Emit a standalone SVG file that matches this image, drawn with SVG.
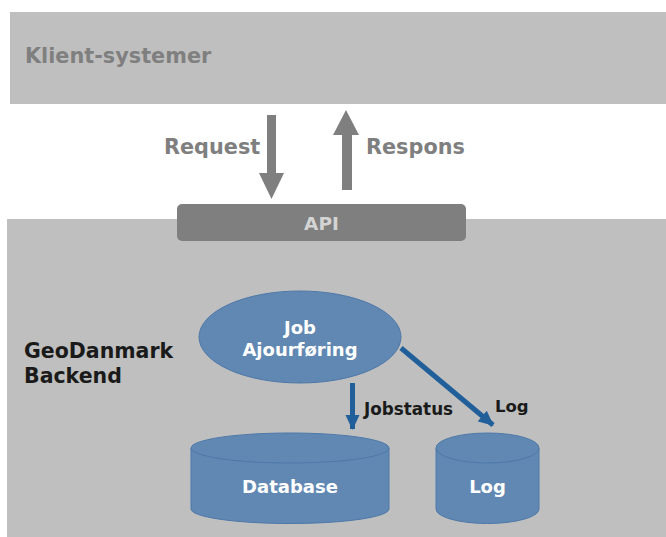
<svg xmlns="http://www.w3.org/2000/svg" width="666" height="537" viewBox="0 0 666 537">
<style>
text{font-family:"DejaVu Sans","Verdana",sans-serif;font-weight:bold}
.gl{fill:#7f7f7f;font-size:20.8px}
.wt{fill:#ffffff;text-anchor:middle}
.dk{fill:#1a1a1a}
.blue{fill:#6188b3;stroke:#4d78a8;stroke-width:1}
.ba{stroke:#215f9a;stroke-width:5;fill:none}
</style>
<defs>
<marker id="bh" markerUnits="userSpaceOnUse" markerWidth="16" markerHeight="16" refX="14" refY="7" orient="auto" viewBox="0 0 16 14">
<path d="M0,0 L15,7 L0,14 Z" fill="#215f9a"/>
</marker>
</defs>
<rect width="666" height="537" fill="#ffffff"/>
<g id="klient">
<rect x="10" y="12" width="656" height="92" fill="#bfbfbf"/>
<text class="gl" x="25" y="63">Klient-systemer</text>
</g>
<g id="backend">
<rect x="7" y="219" width="659" height="318" fill="#bfbfbf"/>
<text class="dk" x="24" y="358" font-size="20.5">GeoDanmark</text>
<text class="dk" x="24" y="383" font-size="20.5">Backend</text>
</g>
<g id="api">
<rect x="177" y="204" width="289" height="37" rx="5" fill="#7f7f7f"/>
<text x="321.5" y="230" font-size="18.5" fill="#d4d4d4" text-anchor="middle">API</text>
</g>
<g id="job">
<ellipse class="blue" cx="300" cy="337" rx="101" ry="46"/>
<text class="wt" x="300" y="334" font-size="18">Job</text>
<text class="wt" x="300" y="356" font-size="18">Ajourføring</text>
</g>
<g id="database">
<path class="blue" d="M191,448 L191,509 A99,14.5 0 0 0 389,509 L389,448"/>
<ellipse class="blue" cx="290" cy="448" rx="99" ry="15"/>
<text class="wt" x="290" y="493" font-size="18">Database</text>
</g>
<g id="log">
<path class="blue" d="M436,448 L436,509 A51.5,14.5 0 0 0 539,509 L539,448"/>
<ellipse class="blue" cx="487.5" cy="448" rx="51.5" ry="15"/>
<text class="wt" x="487.5" y="493" font-size="18">Log</text>
</g>
<g id="connectors">
<path d="M267,115 H276 V173 H284 L271.5,199 L259,173 H267 Z" fill="#7f7f7f"/>
<path d="M342,190 H352 V135 H359 L346,110 L333,135 H342 Z" fill="#7f7f7f"/>
<text class="gl" x="164" y="154">Request</text>
<text class="gl" x="366" y="154">Respons</text>
<line class="ba" x1="352.5" y1="383" x2="352.5" y2="429" marker-end="url(#bh)"/>
<line class="ba" x1="401" y1="348" x2="493" y2="425" marker-end="url(#bh)"/>
<text class="dk" x="364" y="415" font-size="16.8">Jobstatus</text>
<text class="dk" x="495" y="412" font-size="16.5">Log</text>
</g>
</svg>
